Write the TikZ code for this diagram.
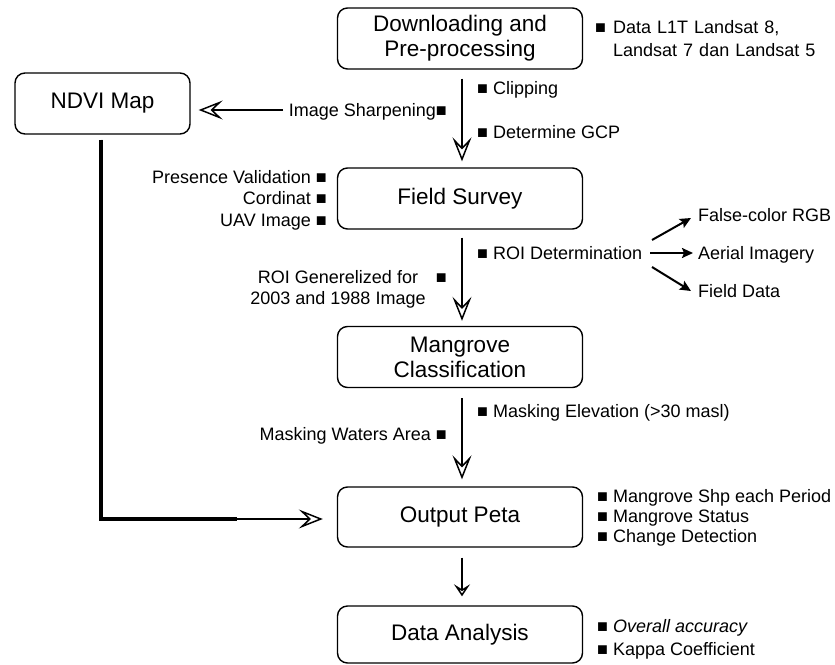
\documentclass[tikz,border=0pt]{standalone}
\usepackage{fontspec}
\setmainfont{Liberation Sans}
\usetikzlibrary{arrows.meta}
\begin{document}
\begin{tikzpicture}[x=1pt,y=-1pt,
  box/.style={draw, line width=1.4pt, rounded corners=10pt, minimum width=245pt,
    minimum height=61pt, align=center, inner sep=0pt,
    font=\fontsize{22.5}{25}\selectfont},
  lbl/.style={inner sep=0pt, font=\fontsize{18}{21}\selectfont},
  flow/.style={line width=2pt, -{Stealth[open, length=24pt, width=19pt, inset=10pt, line width=1.5pt]}},
  smallflow/.style={line width=2pt, -{Stealth[open, length=12pt, width=16pt, inset=5pt, line width=1.5pt]}},
  solidarrow/.style={line width=2pt, -{Stealth[length=11pt, width=10pt, inset=2pt]}}
]
\useasboundingbox (0,0) rectangle (835,664);

% boxes
\node[box] (dl) at (460,38.5) {Downloading and\\Pre-processing};
\node[box, minimum width=175pt] (ndvi) at (102.5,103.5) {NDVI Map};
\node[box] (fs) at (460,198.5) {Field Survey};
\node[box] (mc) at (460,357) {Mangrove\\Classification};
\node[box, minimum height=60pt] (op) at (460,517) {Output Peta};
\node[box, minimum height=57pt] (da) at (460,634.5) {Data Analysis};

% labels
\node[lbl, anchor=base west] (l1sq) at (595,33) {■};
\node[lbl, anchor=base west, align=left, text width=230pt] (l1) at (613,33) {Data L1T Landsat 8,\\[2pt]Landsat 7 dan Landsat 5};
\node[lbl, anchor=base west] (clip) at (477,94) {■ Clipping};
\node[lbl, anchor=base west] (gcp) at (477,138) {■ Determine GCP};
\node[lbl, anchor=base east] (isharp) at (447,116) {Image Sharpening■};
\node[lbl, anchor=base east] (pv) at (327,183) {Presence Validation ■};
\node[lbl, anchor=base east] (cord) at (327,204) {Cordinat ■};
\node[lbl, anchor=base east] (uav) at (327,226) {UAV Image ■};
\node[lbl, anchor=base east] (roigsq) at (447,283) {■};
\node[lbl, align=center, anchor=north] (roig) at (338,270) {ROI Generelized for\\2003 and 1988 Image};
\node[lbl, anchor=base west] (roi) at (477,259) {■ ROI Determination};
\node[lbl, anchor=base west] (fc) at (698,221) {False-color RGB};
\node[lbl, anchor=base west] (ai) at (698,259) {Aerial Imagery};
\node[lbl, anchor=base west] (fd) at (698,297) {Field Data};
\node[lbl, anchor=base west] (me) at (477,417) {■ Masking Elevation (>30 masl)};
\node[lbl, anchor=base east] (mw) at (447,440) {Masking Waters Area ■};
\node[lbl, anchor=base west] (o1) at (597,502) {■ Mangrove Shp each Period};
\node[lbl, anchor=base west] (o2) at (597,522) {■ Mangrove Status};
\node[lbl, anchor=base west] (o3) at (597,542) {■ Change Detection};
\node[lbl, anchor=base west] (d1) at (597,632) {■ \textit{Overall accuracy}};
\node[lbl, anchor=base west] (d2) at (597,655) {■ Kappa Coefficient};

% main flow
\draw[flow, shorten <=9pt, shorten >=6pt] ([xshift=2pt]dl.south) -- ([xshift=2pt]fs.north);
\draw[flow, shorten <=8pt, shorten >=5pt] ([xshift=2pt]fs.south) -- ([xshift=2pt]mc.north);
\draw[flow, shorten <=10pt, shorten >=7pt] ([xshift=2pt]mc.south) -- ([xshift=2pt]op.north);
\draw[smallflow, shorten <=10pt, shorten >=9pt] ([xshift=2pt]op.south) -- ([xshift=2pt]da.north);

% image sharpening to NDVI
\coordinate (isy) at (283,110);
\draw[flow, shorten >=8pt] (isy) -- (ndvi.east |- isy);

% NDVI to output
\coordinate (bend) at (101,519);
\coordinate (thickend) at (237,519);
\draw[line width=3.2pt] ([xshift=-1.5pt,yshift=-5pt]ndvi.south) -- (bend) -- (thickend);
\draw[flow, shorten >=14pt] ([xshift=-1.5pt,yshift=-5pt]ndvi.south) -- (bend) -- (op.west |- bend);

% ROI determination arrows
\coordinate (fcs) at (652,240);
\coordinate (fce) at (691,218);
\coordinate (ais) at (650,253);
\coordinate (aie) at (693,253);
\coordinate (fds) at (652,267);
\coordinate (fde) at (691,291);
\draw[solidarrow] (fcs) -- (fce);
\draw[solidarrow] (ais) -- (aie);
\draw[solidarrow] (fds) -- (fde);
\end{tikzpicture}
\end{document}
